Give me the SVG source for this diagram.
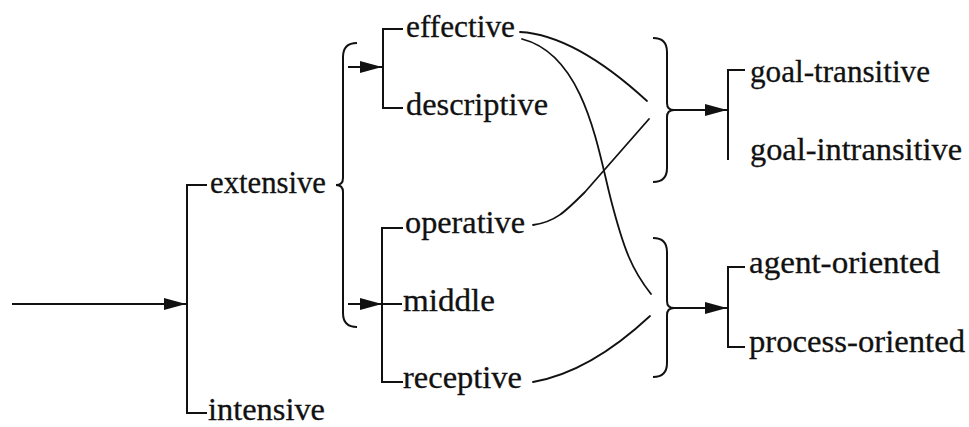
<svg xmlns="http://www.w3.org/2000/svg" width="969" height="427" viewBox="0 0 969 427">
  <style>
    .ln { fill: none; stroke: #111; stroke-width: 2; stroke-linejoin: miter; }
    .cv { fill: none; stroke: #111; stroke-width: 1.8; stroke-linecap: round; }
    .lbl { font-family: "Liberation Serif", "DejaVu Serif", serif; font-size: 32px; fill: #111; stroke: #111; stroke-width: 0.3; }
  </style>
  <defs>
    <marker id="tri" markerUnits="userSpaceOnUse" markerWidth="23" markerHeight="13" refX="22" refY="6.5" orient="auto">
      <path d="M0,0.5 L22,6.5 L0,12.5 Z" fill="#111"/>
    </marker>
  </defs>
  <rect width="969" height="427" fill="#fff"/>

  <!-- connectors: entry arrow, brackets, braces and crossing curves -->
  <g id="connectors">
    <!-- entry -->
    <path class="ln" d="M12,304 L186,304" marker-end="url(#tri)"/>
    <path class="ln" d="M207,185 L187,185 L187,413 L207,413"/>

    <!-- brace grouping the two sub-systems of extensive -->
    <path class="ln" d="M357,43 Q343,43 343,57 L343,178 Q343,185 336,185 Q343,185 343,192 L343,313 Q343,327 357,327"/>

    <!-- effective / descriptive -->
    <path class="ln" d="M348,67 L382,67" marker-end="url(#tri)"/>
    <path class="ln" d="M403,29 L383,29 L383,108 L403,108"/>

    <!-- operative / middle / receptive -->
    <path class="ln" d="M403,228 L382,228 L382,382 L403,382"/>
    <path class="ln" d="M348,304 L382,304" marker-end="url(#tri)"/>
    <path class="ln" d="M382,304 L402,304"/>

    <!-- curves into the right-hand braces -->
    <path class="cv" d="M520,32 Q575,35 647,101"/>
    <path class="cv" d="M522,39 C585,55 598,150 611,200 S632,270 651,294"/>
    <path class="cv" d="M533,225 C555,222 565,212 585,192 L649,119"/>
    <path class="cv" d="M533,382 Q590,372 650,316"/>

    <!-- upper right brace and branch -->
    <path class="ln" d="M653,38 Q667,38 667,52 L667,103 Q667,110 674,110 Q667,110 667,117 L667,168 Q667,182 653,182"/>
    <path class="ln" d="M674,110 L727,110" marker-end="url(#tri)"/>
    <path class="ln" d="M745,70 L728,70 L728,160"/>

    <!-- lower right brace and branch -->
    <path class="ln" d="M653,238 Q667,238 667,252 L667,301 Q667,308 674,308 Q667,308 667,315 L667,363 Q667,377 653,377"/>
    <path class="ln" d="M674,308 L727,308" marker-end="url(#tri)"/>
    <path class="ln" d="M745,267 L728,267 L728,347 L745,347"/>
  </g>

  <g id="extensive"><text class="lbl" x="210" y="193" textLength="116" lengthAdjust="spacingAndGlyphs">extensive</text></g>
  <g id="intensive"><text class="lbl" x="208" y="420" textLength="117" lengthAdjust="spacingAndGlyphs">intensive</text></g>
  <g id="effective"><text class="lbl" x="406" y="37" textLength="109" lengthAdjust="spacingAndGlyphs">effective</text></g>
  <g id="descriptive"><text class="lbl" x="406" y="115" textLength="142" lengthAdjust="spacingAndGlyphs">descriptive</text></g>
  <g id="operative"><text class="lbl" x="405" y="233" textLength="120" lengthAdjust="spacingAndGlyphs">operative</text></g>
  <g id="middle"><text class="lbl" x="403" y="311" textLength="92" lengthAdjust="spacingAndGlyphs">middle</text></g>
  <g id="receptive"><text class="lbl" x="403" y="388" textLength="119" lengthAdjust="spacingAndGlyphs">receptive</text></g>
  <g id="goal-transitive"><text class="lbl" x="750" y="82" textLength="180" lengthAdjust="spacingAndGlyphs">goal-transitive</text></g>
  <g id="goal-intransitive"><text class="lbl" x="750" y="160" textLength="212" lengthAdjust="spacingAndGlyphs">goal-intransitive</text></g>
  <g id="agent-oriented"><text class="lbl" x="749" y="273" textLength="191" lengthAdjust="spacingAndGlyphs">agent-oriented</text></g>
  <g id="process-oriented"><text class="lbl" x="749" y="352" textLength="216" lengthAdjust="spacingAndGlyphs">process-oriented</text></g>
</svg>
